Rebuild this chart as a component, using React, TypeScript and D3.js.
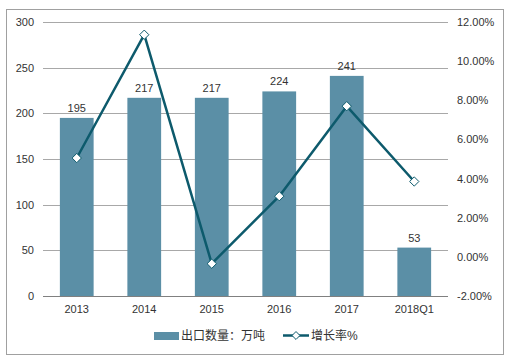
import { useEffect, useRef } from 'react';
import * as d3 from 'd3';

const categories = ['2013', '2014', '2015', '2016', '2017', '2018Q1'];
const exportVolume = [195, 217, 217, 224, 241, 53];
const growthRate = [5.05, 11.35, -0.35, 3.1, 7.7, 3.85];
const leftTicks = [0, 50, 100, 150, 200, 250, 300];
const rightTicks = [-2, 0, 2, 4, 6, 8, 10, 12];

const WIDTH = 508;
const HEIGHT = 364;
const BAR_COLOR = '#5b8fa6';
const LINE_COLOR = '#0d5a6c';
const FONT = '"Liberation Sans", Arial, sans-serif';
const CJK = '"Liberation Sans", "Noto Sans CJK SC", sans-serif';

export default function App() {
  const svgRef = useRef<SVGSVGElement>(null);

  useEffect(() => {
    if (!svgRef.current) return;
    const svg = d3.select(svgRef.current);
    svg.selectAll('*').remove();

    const left = 43, right = 448, top = 22, bottom = 296;

    // frame
    svg.append('rect')
      .attr('x', 6.5).attr('y', 9.5)
      .attr('width', 497).attr('height', 345)
      .attr('fill', '#fff')
      .attr('stroke', '#a0a0a0');

    const x = d3.scaleBand<string>()
      .domain(categories)
      .range([left, right])
      .paddingInner(0.5)
      .paddingOuter(0.25);

    const y = d3.scaleLinear().domain([0, 300]).range([bottom, top]);
    const y2 = d3.scaleLinear().domain([-2, 12]).range([bottom, top]);

    // grid
    svg.append('g')
      .selectAll('line')
      .data(leftTicks.filter(t => t > 0))
      .enter()
      .append('line')
      .attr('x1', left).attr('x2', right)
      .attr('y1', d => Math.round(y(d)) + 0.5)
      .attr('y2', d => Math.round(y(d)) + 0.5)
      .attr('stroke', '#a8a8a8');

    // left tick labels
    svg.append('g')
      .selectAll('text')
      .data(leftTicks)
      .enter()
      .append('text')
      .attr('x', 34)
      .attr('y', d => y(d) + 4)
      .attr('text-anchor', 'end')
      .attr('font-family', FONT)
      .attr('font-size', 11)
      .attr('fill', '#333')
      .text(d => d);

    // right tick labels
    svg.append('g')
      .selectAll('text')
      .data(rightTicks)
      .enter()
      .append('text')
      .attr('x', 457)
      .attr('y', d => y2(d) + 4)
      .attr('font-family', FONT)
      .attr('font-size', 11)
      .attr('fill', '#333')
      .text(d => d.toFixed(2) + '%');

    // bars
    svg.append('g')
      .selectAll('rect')
      .data(exportVolume)
      .enter()
      .append('rect')
      .attr('x', (_, i) => x(categories[i])!)
      .attr('y', d => y(d))
      .attr('width', x.bandwidth())
      .attr('height', d => y(0) - y(d))
      .attr('fill', BAR_COLOR);

    // bar labels
    svg.append('g')
      .selectAll('text')
      .data(exportVolume)
      .enter()
      .append('text')
      .attr('x', (_, i) => x(categories[i])! + x.bandwidth() / 2)
      .attr('y', d => y(d) - 6)
      .attr('text-anchor', 'middle')
      .attr('font-family', FONT)
      .attr('font-size', 11)
      .attr('fill', '#333')
      .text(d => d);

    // x axis line
    svg.append('line')
      .attr('x1', left).attr('x2', right)
      .attr('y1', bottom + 0.5).attr('y2', bottom + 0.5)
      .attr('stroke', '#808080');

    // x labels
    svg.append('g')
      .selectAll('text')
      .data(categories)
      .enter()
      .append('text')
      .attr('x', d => x(d)! + x.bandwidth() / 2)
      .attr('y', 313)
      .attr('text-anchor', 'middle')
      .attr('font-family', FONT)
      .attr('font-size', 11)
      .attr('fill', '#333')
      .text(d => d);

    // growth line
    const line = d3.line<number>()
      .x((_, i) => x(categories[i])! + x.bandwidth() / 2)
      .y(d => y2(d));

    svg.append('path')
      .datum(growthRate)
      .attr('d', line)
      .attr('fill', 'none')
      .attr('stroke', LINE_COLOR)
      .attr('stroke-width', 2.5)
      .attr('stroke-linejoin', 'round');

    const diamond = d3.symbol().type(d3.symbolDiamond2).size(55);
    svg.append('g')
      .selectAll('path')
      .data(growthRate)
      .enter()
      .append('path')
      .attr('d', diamond)
      .attr('transform', (d, i) => `translate(${x(categories[i])! + x.bandwidth() / 2},${y2(d)})`)
      .attr('fill', '#fff')
      .attr('stroke', LINE_COLOR)
      .attr('stroke-width', 1);

    // legend
    const lg = svg.append('g');
    lg.append('rect')
      .attr('x', 154).attr('y', 332)
      .attr('width', 25).attr('height', 8)
      .attr('fill', BAR_COLOR);
    lg.append('text')
      .attr('x', 181).attr('y', 340)
      .attr('font-family', CJK)
      .attr('font-size', 12)
      .attr('fill', '#333')
      .text('出口数量：万吨');
    lg.append('line')
      .attr('x1', 283).attr('x2', 309)
      .attr('y1', 335.5).attr('y2', 335.5)
      .attr('stroke', LINE_COLOR)
      .attr('stroke-width', 2.5);
    lg.append('path')
      .attr('d', d3.symbol().type(d3.symbolDiamond2).size(40))
      .attr('transform', 'translate(296,335.5)')
      .attr('fill', '#fff')
      .attr('stroke', LINE_COLOR);
    lg.append('text')
      .attr('x', 311).attr('y', 340)
      .attr('font-family', CJK)
      .attr('font-size', 12)
      .attr('fill', '#333')
      .text('增长率%');
  }, []);

  return (
    <svg
      ref={svgRef}
      width={WIDTH}
      height={HEIGHT}
      style={{ position: 'absolute', left: 0, top: 0 }}
    />
  );
}
